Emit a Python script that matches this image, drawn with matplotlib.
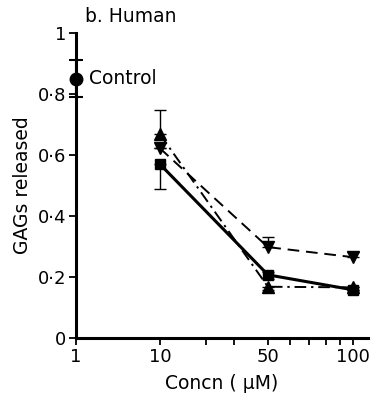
import numpy as np
from matplotlib import pyplot as plt

# datos
concn = [10, 50, 100]
control_x = [1]
control_y = [0.85]
control_err = [0.06]

sq_y = [0.57, 0.207, 0.158]          # linea continua, cuadrados
sq_err_lo = [0.08, 0.012, 0.0]
sq_err_hi = [0.0, 0.008, 0.0]

down_y = [0.622, 0.298, 0.265]       # linea discontinua, triangulos abajo
down_err = [0.0, 0.032, 0.016]

up_y = [0.668, 0.168, 0.166]         # linea punto-raya, triangulos arriba
up_err_lo = [0.0, 0.012, 0.0]
up_err_hi = [0.08, 0.0, 0.0]

major_ticks = [1, 10, 50, 100]
major_labels = ["1", "10", "50", "100"]
minor_ticks = [20, 30, 60, 70, 80, 90]
y_ticks = [0, 0.2, 0.4, 0.6, 0.8, 1.0]
y_labels = ["0", "0·2", "0·4", "0·6", "0·8", "1"]

# eje x dibujado a mano: log por tramos
lg_pts = [-1, 0, 1, np.log10(50), 2, 3]
pos_pts = [-1, 0, 1, 2.286, 3.298, 6.65]


def fwd(x):
    x = np.clip(np.asarray(x, dtype=float), 1e-3, None)
    return np.interp(np.log10(x), lg_pts, pos_pts)


def inv(p):
    return 10 ** np.interp(np.asarray(p, dtype=float), pos_pts, lg_pts)


plt.rcParams['font.family'] = ['DejaVu Sans']
fig = plt.figure(figsize=(3.72, 4.0), dpi=100)
ax = fig.add_axes([0.204, 0.155, 0.785, 0.7625])
ax.set_xscale('function', functions=(fwd, inv))

# control
ax.errorbar(control_x, control_y, yerr=control_err, fmt='o', color='black',
            ms=9, capsize=5, elinewidth=1.5, capthick=1.5, clip_on=False, zorder=5)
ax.text(1.45, 0.85, "Control", fontsize=13.5, va='center', ha='left')

# series
ax.errorbar(concn, sq_y, yerr=[sq_err_lo, sq_err_hi], fmt='s-', color='black',
            ms=6.5, lw=2.2, capsize=4, elinewidth=1, zorder=4)
ax.errorbar(concn, down_y, yerr=[[0, 0, 0], down_err], fmt='v', ls=(0, (6, 3.5)),
            color='black', ms=9, lw=1.4, capsize=4, elinewidth=1, zorder=4)
ax.errorbar(concn, up_y, yerr=[up_err_lo, up_err_hi], fmt='^', ls=(0, (6, 2.5, 1.2, 2.5)),
            color='black', ms=9, lw=1.4, capsize=4, elinewidth=1, zorder=4)

ax.set_xlim(1, 113)
ax.set_ylim(0, 1.0)
ax.set_xticks(major_ticks)
ax.set_xticklabels(major_labels)
ax.set_xticks(minor_ticks, minor=True)
ax.set_yticks(y_ticks)
ax.set_yticklabels(y_labels)

for s in ['top', 'right']:
    ax.spines[s].set_visible(False)
for s in ['left', 'bottom']:
    ax.spines[s].set_linewidth(2.2)

ax.tick_params(axis='both', which='major', direction='out', length=5, width=1.3,
               labelsize=13, pad=2)
ax.tick_params(axis='x', which='minor', direction='out', length=5, width=1.3)

ax.set_xlabel("Concn ( μM)", fontsize=13.5, labelpad=6)
ax.set_ylabel("GAGs released", fontsize=13.5, labelpad=4)
fig.text(85 / 372, 1 - 17 / 400, "b. Human", fontsize=13.5, va='center', ha='left')

fig.savefig("out.png", dpi=100)
